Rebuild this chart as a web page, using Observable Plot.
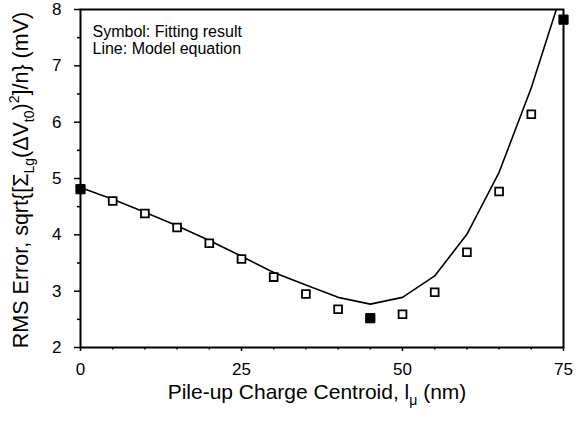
<!DOCTYPE html>
<html>
<head>
<meta charset="utf-8">
<script src="https://cdn.jsdelivr.net/npm/d3@7"></script>
<script src="https://cdn.jsdelivr.net/npm/@observablehq/plot@0.6"></script>
<style>
  html, body { margin: 0; padding: 0; background: #fff; }
  #chart { width: 587px; height: 423px; }
</style>
</head>
<body>
<div id="chart"></div>
<script>
// ---- Data ----
const xValues = [0, 5, 10, 15, 20, 25, 30, 35, 40, 45, 50, 55, 60, 65, 70, 75];
const fitResult = [4.81, 4.60, 4.38, 4.13, 3.85, 3.57, 3.25, 2.95, 2.68, 2.52, 2.59, 2.98, 3.69, 4.77, 6.14, 7.82];
const filledX = [0, 45, 75];
const modelValues = [4.84, 4.63, 4.40, 4.16, 3.90, 3.62, 3.33, 3.11, 2.89, 2.77, 2.89, 3.27, 4.01, 5.11, 6.61, 8.40];
const xMajorTicks = [0, 25, 50, 75];
const xMinorTicks = [5, 10, 15, 20, 30, 35, 40, 45, 55, 60, 65, 70];
const yMajorTicks = [2, 3, 4, 5, 6, 7, 8];
const yMinorTicks = [2.5, 3.5, 4.5, 5.5, 6.5, 7.5];
const annotationLines = ["Symbol: Fitting result", "Line: Model equation"];
const xLabelParts = [["Pile-up Charge Centroid, l", 0], ["\u03bc", 1], [" (nm)", 0]];
const yLabelParts = [["RMS Error, sqrt{[\u03a3", 0], ["Lg", 1], ["(\u0394V", 0], ["t0", 1], [")", 0], ["2", -1], ["]/n} (mV)", 0]];

const fitData = xValues.map((x, i) => ({x, y: fitResult[i], filled: filledX.includes(x)}));
const modelData = xValues.map((x, i) => ({x, y: modelValues[i]}));

const plot = Plot.plot({
  width: 587,
  height: 423,
  marginLeft: 80,
  marginRight: 24,
  marginTop: 9,
  marginBottom: 76,
  style: {fontFamily: "'Liberation Sans', Arial, sans-serif", fontSize: "17px", color: "#000", background: "#fff"},
  x: {domain: [0, 75]},
  y: {domain: [2, 8]},
  marks: [
    Plot.line(modelData, {x: "x", y: "y", stroke: "#000", strokeWidth: 1.6, clip: true}),
    Plot.dot(fitData.filter(d => !d.filled), {x: "x", y: "y", symbol: "square", r: 4.4, stroke: "#000", strokeWidth: 1.8, fill: "#fff"}),
    Plot.dot(fitData.filter(d => d.filled), {x: "x", y: "y", symbol: "square", r: 5.2, stroke: "#000", strokeWidth: 1, fill: "#000"}),
    Plot.axisX({ticks: xMajorTicks, tickSize: 4, tickPadding: 11, tickFormat: d => String(d), label: null, strokeWidth: 1.5, fontSize: 17}),
    Plot.axisX({ticks: xMinorTicks, tickSize: 2.5, tickFormat: () => "", label: null, strokeWidth: 1.5}),
    Plot.axisY({ticks: yMajorTicks, tickSize: 6, tickPadding: 13, tickFormat: d => String(d), label: null, strokeWidth: 1.5, fontSize: 17}),
    Plot.axisY({ticks: yMinorTicks, tickSize: 3, tickFormat: () => "", label: null, strokeWidth: 1.5}),
    Plot.frame({stroke: "#000", strokeWidth: 2}),
    Plot.text([annotationLines.join("\n")], {frameAnchor: "top-left", dx: 12, dy: 15, textAnchor: "start", lineAnchor: "top", fontSize: 16, lineHeight: 1.08, fill: "#000"})
  ]
});

const svg = d3.select(plot);

function richText(el, parts) {
  let cur = 0;
  for (const [t, s] of parts) {
    const target = s === 1 ? 6 : s === -1 ? -9 : 0;
    const ts = el.append("tspan").attr("dy", target - cur).attr("fill", "#000").text(t);
    if (s) ts.attr("font-size", 14);
    cur = target;
  }
}

const xl = svg.append("text")
  .attr("x", 317).attr("y", 399)
  .attr("text-anchor", "middle")
  .attr("font-size", 21)
  .attr("fill", "#000");
richText(xl, xLabelParts);

const yl = svg.append("text")
  .attr("transform", "translate(28,180) rotate(-90)")
  .attr("text-anchor", "middle")
  .attr("font-size", 21.5)
  .attr("fill", "#000");
richText(yl, yLabelParts);

document.getElementById("chart").appendChild(plot);
</script>
</body>
</html>
